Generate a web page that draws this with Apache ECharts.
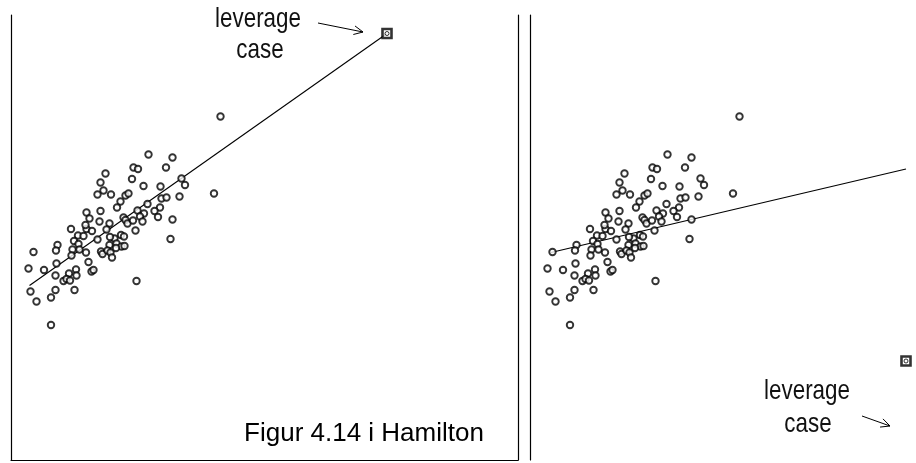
<!DOCTYPE html>
<html><head><meta charset="utf-8">
<script src="https://cdn.jsdelivr.net/npm/echarts@6/dist/echarts.min.js"></script>
<style>html,body{margin:0;padding:0;background:#fff}#c{width:916px;height:463px}</style>
</head><body><div id="c"></div>
<script>
// Shared data cloud (same cases in both panels)
var xs = [27.5,32.3,24.5,25.4,31.0,18.9,24.2,34.1,17.9,26.5,29.9,34.8,18.5,17.3,20.0,22.9,23.5,40.6,30.1,31.1,
          33.7,21.9,21.2,27.3,29.8,17.9,15.1,25.3,26.6,28.7,25.8,29.4,32.3,15.7,17.7,19.7,22.5,22.9,23.3,24.4,
          26.3,19.1,12.0,15.1,16.2,24.9,13.4,14.5,22.0,22.6,17.3,20.7,12.6,31.9,9.3,9.0,13.5,19.7,21.1,22.1,
          22.7,12.3,13.7,15.0,18.0,18.3,19.3,19.9,4.5,12.1,20.2,9.1,15.5,3.5,6.6,13.0,8.9,11.6,13.1,16.1,
          16.5,10.5,11.1,11.8,25.1,12.7,3.9,8.9,8.0,5.1,8.0,41.9,21.0,19.8,14.9];
var ys = [61.1,60.5,58.5,58.2,58.5,57.3,56.2,56.3,55.5,54.8,54.7,55.0,53.9,53.1,53.1,52.9,53.3,53.3,52.3,52.5,
          52.7,51.7,50.5,51.2,50.5,49.8,49.5,49.9,49.3,49.8,48.7,48.6,48.1,48.3,47.7,47.3,48.5,48.0,47.3,47.9,
          47.7,46.1,46.2,46.2,45.8,45.9,44.9,44.8,45.0,44.7,44.1,44.3,43.8,44.2,43.0,41.9,43.2,43.0,43.3,42.7,
          42.8,42.1,42.1,41.5,41.7,41.2,41.9,41.5,41.6,40.9,40.5,39.3,39.6,38.3,38.0,38.1,36.9,37.3,36.9,37.7,
          38.0,35.8,36.2,35.9,35.8,34.0,33.7,34.0,32.5,31.7,27.0,68.7,42.4,44.6,47.0];
var leverageX = 75.2;
var leverageYLeft = 85.3;
var leverageYRight = 19.8;
var fitLeftX = [3.7, 75.2];
var fitLeftY = [34.9, 85.3];
var fitRightX = [4.2, 75.2];
var fitRightY = [41.5, 58.2];
var labelLines = ['leverage', 'case'];
var caption = 'Figur 4.14 i Hamilton';

function pts(xa, ya){ return xa.map(function(x,i){ return [x, ya[i]]; }); }

var axisLineStyle = {show:true, lineStyle:{color:'#000', width:1.2}};
function hidden(){ return {show:false}; }

var chart = echarts.init(document.getElementById('c'), null, {renderer:'canvas'});

function arrow(x1,y1,x2,y2){
  var dx=x2-x1, dy=y2-y1, L=Math.sqrt(dx*dx+dy*dy), ux=dx/L, uy=dy/L, h=10, a=0.45;
  var c=Math.cos(a), s=Math.sin(a);
  var b1=[x2-h*(ux*c-uy*s), y2-h*(uy*c+ux*s)];
  var b2=[x2-h*(ux*c+uy*s), y2-h*(uy*c-ux*s)];
  return [
    {type:'line', shape:{x1:x1,y1:y1,x2:x2,y2:y2}, style:{stroke:'#000', lineWidth:1}},
    {type:'polyline', shape:{points:[b1,[x2,y2],b2]}, style:{stroke:'#000', lineWidth:1, fill:null}}
  ];
}
var fam = '"Liberation Sans",Arial,sans-serif';
function txt(t,x,y){
  return {type:'text', x:x, y:y, scaleX:0.8, scaleY:1, style:{text:t, fill:'#111', font:'28px '+fam, textAlign:'center', textVerticalAlign:'middle'}};
}

var circleStyle = {color:'#fff', borderColor:'#000', borderWidth:1.9};
var sqStyle = {color:'#fff', borderColor:'#000', borderWidth:2.6};
var dotStyle = {color:'#fff', borderColor:'#000', borderWidth:1};

var option = {
  animation:false,
  backgroundColor:'#fff',
  grid:[
    {left:11, top:15, width:507, height:445},
    {left:527, top:15, width:389, height:445}
  ],
  xAxis:[
    {gridIndex:0, type:'value', min:0, max:101.4, axisLine:axisLineStyle, axisTick:hidden(), axisLabel:hidden(), splitLine:hidden()},
    {gridIndex:1, type:'value', min:-0.6, max:77.2, axisLine:hidden(), axisTick:hidden(), axisLabel:hidden(), splitLine:hidden()}
  ],
  yAxis:[
    {gridIndex:0, type:'value', min:0, max:89, axisLine:axisLineStyle, axisTick:hidden(), axisLabel:hidden(), splitLine:hidden()},
    {gridIndex:0, type:'value', min:0, max:89, position:'right', axisLine:axisLineStyle, axisTick:hidden(), axisLabel:hidden(), splitLine:hidden()},
    {gridIndex:1, type:'value', min:0, max:89, axisLine:axisLineStyle, axisTick:hidden(), axisLabel:hidden(), splitLine:hidden()}
  ],
  series:[
    {type:'line', xAxisIndex:0, yAxisIndex:0, data:pts(fitLeftX, fitLeftY), symbol:'none', lineStyle:{color:'#000', width:1.1}, z:1},
    {type:'scatter', xAxisIndex:0, yAxisIndex:0, data:pts(xs, ys), symbol:'circle', symbolSize:6.5, itemStyle:circleStyle, z:2},
    {type:'scatter', xAxisIndex:0, yAxisIndex:0, data:[[leverageX, leverageYLeft]], symbol:'rect', symbolSize:9, itemStyle:sqStyle, z:3},
    {type:'scatter', xAxisIndex:0, yAxisIndex:0, data:[[leverageX, leverageYLeft]], symbol:'circle', symbolSize:4, itemStyle:dotStyle, z:4},

    {type:'line', xAxisIndex:1, yAxisIndex:2, data:pts(fitRightX, fitRightY), symbol:'none', lineStyle:{color:'#000', width:1.1}, z:1},
    {type:'scatter', xAxisIndex:1, yAxisIndex:2, data:pts(xs, ys), symbol:'circle', symbolSize:6.5, itemStyle:circleStyle, z:2},
    {type:'scatter', xAxisIndex:1, yAxisIndex:2, data:[[leverageX, leverageYRight]], symbol:'rect', symbolSize:9, itemStyle:sqStyle, z:3},
    {type:'scatter', xAxisIndex:1, yAxisIndex:2, data:[[leverageX, leverageYRight]], symbol:'circle', symbolSize:4, itemStyle:dotStyle, z:4}
  ],
  graphic: [].concat(
    [txt(labelLines[0], 258, 19), txt(labelLines[1], 260, 50)],
    arrow(318, 23, 363, 32),
    [txt(labelLines[0], 807, 391), txt(labelLines[1], 808, 424)],
    arrow(862, 416, 890, 426),
    [{type:'text', x:364, y:434, style:{text:caption, fill:'#000', font:'26px "Liberation Sans",Arial,sans-serif', textAlign:'center', textVerticalAlign:'middle'}}]
  )
};
chart.setOption(option);
</script></body></html>
